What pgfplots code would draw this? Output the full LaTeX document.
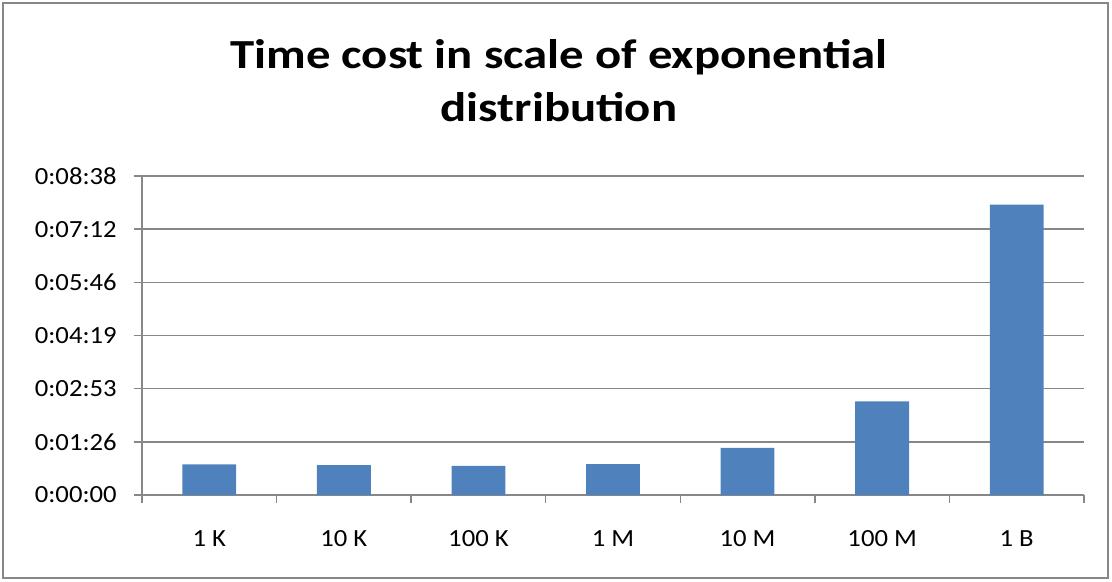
\documentclass[border=0pt]{standalone}
\usepackage{fontspec}
\setmainfont{Carlito}
\newfontfamily\titlefont[FakeStretch=1.18]{Carlito}
\newfontfamily\tickfont[FakeStretch=1.08]{Carlito}
\usepackage{pgfplots}
\pgfplotsset{compat=1.18}

\definecolor{barblue}{HTML}{4F81BD}
\definecolor{gridgray}{HTML}{878787}

\begin{document}
\begin{tikzpicture}
\useasboundingbox (-106.5pt,-64.5pt) rectangle (727.5pt,371.25pt);
% chart frame
\draw[gridgray, line width=1.5pt] (-104.25pt,-62.25pt) rectangle (724.5pt,369pt);
% title, two lines
\node[anchor=base, font=\titlefont\fontsize{31}{36}\selectfont\bfseries] at (312.75pt,319.5pt) {Time cost in scale of exponential};
\node[anchor=base, font=\titlefont\fontsize{31}{36}\selectfont\bfseries] at (312.75pt,279.75pt) {distribution};

\begin{axis}[
  scale only axis,
  width=706.5pt, height=239.25pt,
  xmin=-0.5, xmax=6.5,
  ymin=0, ymax=518.4,
  axis x line*=bottom, axis y line*=left,
  axis line style={gridgray, line width=1pt},
  ymajorgrids,
  grid style={gridgray, line width=1pt},
  tick align=outside,
  major tick length=6pt,
  minor tick length=6pt,
  tick style={gridgray, line width=1pt},
  ytick={0,86.4,172.8,259.2,345.6,432,518.4},
  yticklabels={0:00:00,0:01:26,0:02:53,0:04:19,0:05:46,0:07:12,0:08:38},
  xtick={0,...,6},
  xticklabels={1 K,10 K,100 K,1 M,10 M,100 M,1 B},
  every major x tick/.append style={draw=none},
  minor xtick={-0.5,0.5,...,6.5},
  tick label style={font=\tickfont\fontsize{18.5}{22}\selectfont, text=black},
  xticklabel style={yshift=-17pt},
  yticklabel style={xshift=-9.5pt},
  ybar,
  bar width=0.4,
]
% time per run, in seconds
\addplot[fill=barblue, draw=none] coordinates {
  (0,49.7) (1,48.6) (2,47.5) (3,50.2) (4,76.7) (5,152.3) (6,472.0)
};
\end{axis}
\end{tikzpicture}
\end{document}
